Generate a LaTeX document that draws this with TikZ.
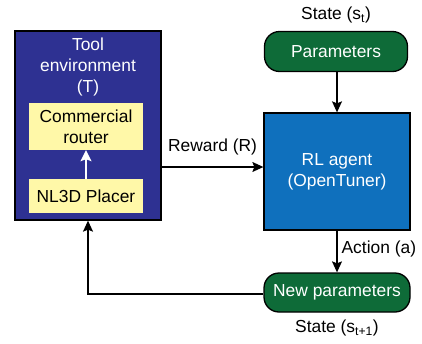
\documentclass[tikz,border=0pt]{standalone}
\usepackage{fontspec}
\setmainfont{Liberation Sans}
\usetikzlibrary{arrows.meta}
\definecolor{navy}{HTML}{2E3192}
\definecolor{paleyel}{HTML}{FFF8A8}
\definecolor{dgreen}{HTML}{0E6B38}
\definecolor{rlblue}{HTML}{0F70BD}
\tikzset{
  txt/.style={font=\fontsize{17.4}{21}\selectfont, align=center, inner sep=0pt},
  envbox/.style={draw=black, line width=1.3pt, fill=navy, minimum width=146pt, minimum height=189pt, inner sep=0pt},
  ybox/.style={fill=paleyel, draw=none, minimum width=114pt, inner sep=0pt, txt},
  gpill/.style={draw=black, line width=1.3pt, fill=dgreen, rounded corners=15pt, minimum width=143pt, minimum height=40pt, inner sep=0pt, txt, text=white},
  agentbox/.style={draw=black, line width=1.3pt, fill=rlblue, minimum width=146pt, minimum height=117pt, inner sep=0pt, txt, text=white},
  conn/.style={line width=1.2pt, draw=black, -{Stealth[length=11pt,width=10pt,inset=2pt]}},
}
\begin{document}
\begin{tikzpicture}[x=1pt,y=-1pt]
\useasboundingbox (0,0) rectangle (422,343);
% tool environment
\node[envbox] (env) at (88,125.5) {};
\node[txt, text=white] (envlbl) at (88,66.5) {Tool\\environment\\(T)};
\node[ybox, minimum height=47pt] (router) at (86,126.5) {Commercial\\router};
\node[ybox, minimum height=34pt] (placer) at (86,196) {NL3D Placer};
\draw[line width=1.5pt, white, -{Stealth[length=11pt,width=11pt,inset=2pt]}] (placer.north) -- (router.south);
% parameters
\node[txt] (st) at (336,15) {State (s\textsubscript{t})};
\node[gpill] (params) at (336,51.5) {Parameters};
% RL agent
\node[agentbox] (agent) at (337,171.5) {RL agent\\(OpenTuner)};
% new parameters
\node[gpill, minimum width=146pt, minimum height=39pt] (newp) at (337,292.5) {New parameters};
\node[txt] (st1) at (337,328) {State (s\textsubscript{t+1})};
% connectors
\draw[conn] (params.south -| agent.north) -- (agent.north);
\draw[conn] (env.east |- 0,167) -- node[txt, above=11pt, pos=0.5] (rew) {Reward (R)} (agent.west |- 0,167);
\draw[conn] (agent.south) -- node[txt, right=4pt, pos=0.45] (act) {Action (a)} (newp.north);
\coordinate (corner) at (88,294);
\draw[conn] (newp.west |- corner) -- (corner) -- (env.south -| corner);
\end{tikzpicture}
\end{document}
